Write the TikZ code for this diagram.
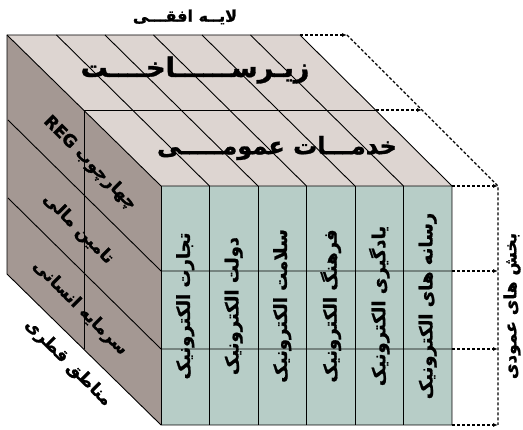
\documentclass[tikz,border=0pt]{standalone}
\usepackage{fontspec}
\usepackage{tikz}
\usetikzlibrary{arrows.meta,calc}
\TeXXeTstate=1
\newfontfamily\fa[Script=Arabic,FakeBold=1.2]{DejaVu Sans}
\definecolor{topgray}{RGB}{221,213,209}
\definecolor{sidegray}{RGB}{164,152,147}
\definecolor{frontteal}{RGB}{183,205,199}

\begin{document}
\begin{tikzpicture}[x=1pt,y=-1pt,
    edge/.style={line width=0.9pt},
    collbl/.style={rotate=90,inner sep=0pt,font=\fa\bfseries\fontsize{18}{18}\selectfont},
    sidelbl/.style={rotate=-45,inner sep=0pt,font=\fa\bfseries\fontsize{17}{17}\selectfont},
    dasharrow/.style={densely dashed,line width=1.1pt,-{Latex[length=5pt,width=4pt]}}]
    \useasboundingbox (0,0) rectangle (523,430);
    % corners of the cube
    \coordinate (f-tl) at (161,186);
    \coordinate (f-tr) at (452,186);
    \coordinate (f-br) at (452,425);
    \coordinate (f-bl) at (161,425);
    \coordinate (b-tl) at (7,35);
    \coordinate (b-tr) at (300,35);
    \coordinate (b-bl) at (7,274);
    \coordinate (m-tl) at (84,110);
    \coordinate (m-tr) at (376,110);
    \coordinate (m-bl) at (84,349);
    \coordinate (r1) at (452,271);
    \coordinate (r2) at (452,349);

    % faces
    \fill[topgray] (b-tl) -- (b-tr) -- (f-tr) -- (f-tl) -- cycle;
    \fill[sidegray] (b-tl) -- (f-tl) -- (f-bl) -- (b-bl) -- cycle;
    \fill[frontteal] (f-tl) rectangle (f-br);

    % columns and rows
    \foreach \k in {1,...,5} {
        \draw[edge] ($(f-tl)+(48.5*\k,0)$) -- ++(-153,-151);
        \draw[edge] ($(f-tl)+(48.5*\k,0)$) -- ($(f-bl)+(48.5*\k,0)$);
    }
    \draw[edge] (r1) -- (f-tl |- r1) -- ++(-153,-151);
    \draw[edge] (r2) -- (f-tl |- r2) -- ++(-153,-151);
    \draw[edge] (m-bl) -- (m-tl) -- (m-tr);
    \draw[edge] (b-tl) -- (b-tr) -- (f-tr) -- (f-br) -- (f-bl) -- (b-bl) -- cycle;
    \draw[edge] (b-tl) -- (f-tl) -- (f-tr);
    \draw[edge] (f-tl) -- (f-bl);

    % dashed arrows
    \coordinate (a-top) at (347,35);
    \coordinate (a-mid) at (422,110);
    \coordinate (a-front) at (498,186);
    \coordinate (a-bot) at (498,425);
    \draw[dasharrow] (b-tr) -- (a-top);
    \draw[dasharrow] (m-tr) -- (a-mid);
    \draw[dasharrow] (f-tr) -- (a-front);
    \draw[dasharrow] (r1) -- (r1 -| a-front);
    \draw[dasharrow] (r2) -- (r2 -| a-front);
    \draw[dasharrow] (f-br) -- (a-bot);
    \draw[densely dashed,line width=1.1pt] (a-top) -- (a-front) -- (a-bot);

    % labels
    \path (185,17) node[font=\fa\bfseries\fontsize{16}{16}\selectfont] (layer) {\beginR لایــه افقـــی\endR};
    \path (195,70) node[font=\fa\bfseries\fontsize{27}{27}\selectfont] (infra) {\beginR زیـرســــــاخــــت\endR};
    \path (277,148) node[font=\fa\bfseries\fontsize{24}{24}\selectfont] (pub) {\beginR خدمـــات عمومـــــی\endR};
    \path (90,163) node[sidelbl] (reg) {\beginR چهارچوب \beginL REG\endL\endR};
    \path (78,229) node[sidelbl] (fund) {\beginR تامین مالی\endR};
    \path (80,308) node[sidelbl] (human) {\beginR سرمایه انسانی\endR};
    \path (68,363) node[sidelbl] (diag) {\beginR مناطق قطری\endR};
    \path (185.25,306) node[collbl] (c1) {\beginR تجارت الکترونیک\endR};
    \path (233.75,306) node[collbl] (c2) {\beginR دولت الکترونیک\endR};
    \path (282.25,306) node[collbl] (c3) {\beginR سلامت الکترونیک\endR};
    \path (330.75,306) node[collbl] (c4) {\beginR فرهنگ الکترونیک\endR};
    \path (379.25,306) node[collbl] (c5) {\beginR یادگیری الکترونیک\endR};
    \path (427.75,306) node[collbl] (c6) {\beginR رسانه های الکترونیک\endR};
    \path (512,306) node[collbl,font=\fa\bfseries\fontsize{17}{17}\selectfont] (vert) {\beginR بخش های عمودی\endR};
\end{tikzpicture}
\end{document}
